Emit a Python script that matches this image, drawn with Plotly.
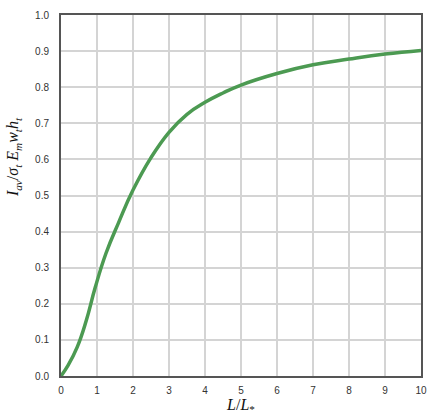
import plotly.graph_objects as go

# values
L_ratio = [0, 0.2, 0.45, 0.7, 0.95, 1.25, 1.6, 2.0, 2.5, 3.0, 3.5, 4, 4.5, 5, 6, 7, 8, 9, 10]
I_norm = [0, 0.03, 0.08, 0.153, 0.245, 0.34, 0.425, 0.515, 0.605, 0.675, 0.725, 0.758,
          0.784, 0.806, 0.838, 0.862, 0.878, 0.892, 0.902]

y_title = ('<i>I</i><sub><i>av</i></sub>/<i>σ</i><sub><i>t</i></sub> '
           '<i>E</i><sub><i>m</i></sub><i>w</i><sub><i>t</i></sub><i>h</i><sub><i>t</i></sub>')

fig = go.Figure()
fig.add_trace(go.Scatter(x=L_ratio, y=I_norm, mode='lines',
                         line=dict(color='#4c9a52', width=3.5, shape='spline', smoothing=1.3),
                         showlegend=False))

axis_common = dict(showline=True, linecolor='#555555', linewidth=2, mirror=True,
                   showgrid=True, gridcolor='#d4d4d4', gridwidth=1.5, zeroline=False,
                   automargin=False, ticks='',
                   tickfont=dict(family='Liberation Sans', size=10, color='#333333'))

fig.update_xaxes(range=[0, 10], dtick=1, ticklabelstandoff=4,
                 title=dict(text='<i>L</i>/<i>L</i><sub>*</sub>', standoff=0,
                            font=dict(family='Liberation Serif', size=16, color='#111111')),
                 **axis_common)
fig.update_yaxes(range=[0, 1.0], dtick=0.1, tickformat='.1f', ticklabelstandoff=8,
                 **axis_common)

fig.add_annotation(text=y_title, textangle=-90, xref='paper', yref='paper',
                   x=-0.13, y=0.607, xanchor='center', yanchor='middle', showarrow=False,
                   font=dict(family='Liberation Serif', size=16, color='#111111'))

fig.update_layout(width=436, height=418, margin=dict(l=61, r=15, t=15, b=42),
                  plot_bgcolor='white', paper_bgcolor='white')

# drop the default page margin so the figure sits at the top-left corner
fig.write_html("out.html", config={'displayModeBar': False},
               post_script="document.body.style.margin='0';")
